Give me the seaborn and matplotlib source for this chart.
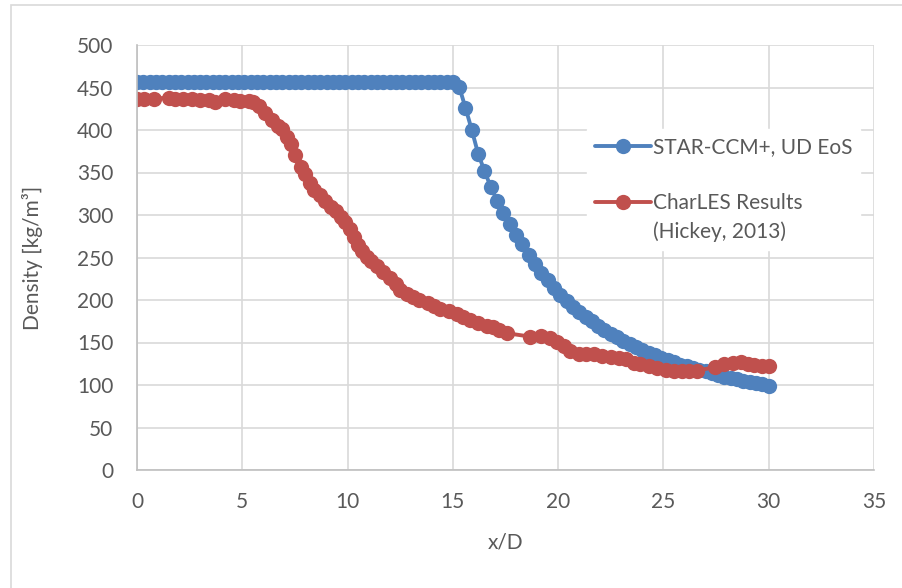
import matplotlib
matplotlib.use("Agg")
import matplotlib.pyplot as plt
from matplotlib.lines import Line2D
from matplotlib.patches import Rectangle
import seaborn as sns
import pandas as pd

# ---------------- data ----------------
blue_x = [0.0, 0.3, 0.6, 0.9, 1.2, 1.5, 1.8, 2.1, 2.4, 2.7,
          3.0, 3.3, 3.6, 3.9, 4.2, 4.5, 4.8, 5.1, 5.4, 5.7,
          6.0, 6.3, 6.6, 6.9, 7.2, 7.5, 7.8, 8.1, 8.4, 8.7,
          9.0, 9.3, 9.6, 9.9, 10.2, 10.5, 10.8, 11.1, 11.4, 11.7,
          12.0, 12.3, 12.6, 12.9, 13.2, 13.5, 13.8, 14.1, 14.4, 14.7,
          15.0, 15.3, 15.6, 15.9, 16.2, 16.5, 16.8, 17.1, 17.4, 17.7,
          18.0, 18.3, 18.6, 18.9, 19.2, 19.5, 19.8, 20.1, 20.4, 20.7,
          21.0, 21.3, 21.6, 21.9, 22.2, 22.5, 22.8, 23.1, 23.4, 23.7,
          24.0, 24.3, 24.6, 24.9, 25.2, 25.5, 25.8, 26.1, 26.4, 26.7,
          27.0, 27.3, 27.6, 27.9, 28.2, 28.5, 28.8, 29.1, 29.4, 29.7,
          30.0]
blue_y = [457, 457, 457, 457, 457, 457, 457, 457, 457, 457,
          457, 457, 457, 457, 457, 457, 457, 457, 457, 457,
          457, 457, 457, 457, 457, 457, 457, 457, 457, 457,
          457, 457, 457, 457, 457, 457, 457, 457, 457, 457,
          457, 457, 457, 457, 457, 457, 457, 457, 457, 457,
          456, 451, 426, 400, 372, 352, 333, 317, 302, 289,
          277, 266, 253, 242, 232, 223, 214, 206, 199, 192,
          186, 180, 175, 170, 165, 160, 156, 152, 148, 145,
          141, 138, 135, 132, 129, 127, 124, 122, 120, 118,
          116, 114, 112, 110, 108, 107, 105, 104, 102, 101,
          99]

red_x = [0.0, 0.35, 0.8, 1.5, 1.8, 2.2, 2.6, 3.0, 3.4, 3.7,
         4.2, 4.6, 4.9, 5.3, 5.5, 5.8, 6.1, 6.4, 6.7, 6.9,
         7.1, 7.3, 7.5, 7.8, 8.0, 8.2, 8.4, 8.7, 8.95, 9.2,
         9.45, 9.7, 9.9, 10.1, 10.3, 10.5, 10.7, 10.9, 11.1, 11.4,
         11.7, 12.0, 12.3, 12.5, 12.8, 13.1, 13.4, 13.8, 14.1, 14.4,
         14.8, 15.2, 15.5, 15.8, 16.2, 16.6, 16.9, 17.2, 17.55, 18.65,
         19.2, 19.6, 19.95, 20.3, 20.55, 21.0, 21.3, 21.7, 22.1, 22.5,
         22.9, 23.2, 23.6, 23.9, 24.3, 24.7, 25.1, 25.5, 25.9, 26.2,
         26.6, 27.45, 27.9, 28.3, 28.7, 29.0, 29.3, 29.7, 30.0]
red_y = [436, 436, 437, 438, 437, 436, 436, 435, 435, 433,
         437, 435, 434, 434, 433, 428, 420, 412, 405, 401,
         392, 383, 371, 356, 348, 338, 330, 323, 316, 310,
         305, 298, 292, 283, 274, 265, 258, 251, 246, 240,
         233, 226, 219, 212, 207, 203, 200, 196, 193, 190,
         187, 183, 180, 177, 173, 170, 168, 165, 161, 157,
         158, 155, 151, 146, 140, 137, 137, 136, 134, 133,
         132, 131, 126, 125, 122, 120, 118, 116, 116, 117,
         117, 121, 125, 126, 127, 125, 124, 122, 122]

series_names = ["STAR-CCM+, UD EoS", "CharLES Results"]
legend_extra = "(Hickey, 2013)"
x_ticks = [0, 5, 10, 15, 20, 25, 30, 35]
y_ticks = [0, 50, 100, 150, 200, 250, 300, 350, 400, 450, 500]
x_label = "x/D"
y_label = "Density [kg/m³]"

# ---------------- style ----------------
sns.set_theme(style="white")
plt.rcParams["font.family"] = ["Lato", "DejaVu Sans"]
text_col = "#595959"
grid_col = "#d9d9d9"
axis_col = "#bfbfbf"
c_blue = "#4F81BD"
c_red = "#C0504D"
fs = 15

df = pd.concat([
    pd.DataFrame({"x": blue_x, "density": blue_y, "series": series_names[0]}),
    pd.DataFrame({"x": red_x, "density": red_y, "series": series_names[1]}),
], ignore_index=True)

fig = plt.figure(figsize=(9.03, 5.88), dpi=100)
ax = fig.add_axes([137 / 903, 1 - 470 / 588, (874 - 137) / 903, (470 - 45) / 588])

sns.lineplot(data=df, x="x", y="density", hue="series", hue_order=series_names,
             palette=[c_blue, c_red], marker="o", markersize=11,
             markeredgewidth=0, linewidth=2.8, estimator=None, sort=False,
             legend=False, ax=ax)

ax.set_xlim(0, 35)
ax.set_ylim(0, 500)
ax.set_xticks(x_ticks)
ax.set_yticks(y_ticks)
ax.grid(True, color=grid_col, linewidth=1.2)
ax.set_axisbelow(True)
for side in ["top", "right"]:
    ax.spines[side].set_visible(False)
for side in ["left", "bottom"]:
    ax.spines[side].set_color(axis_col)
    ax.spines[side].set_linewidth(1.2)
ax.tick_params(axis="both", length=0, labelsize=fs, labelcolor=text_col)
ax.tick_params(axis="y", pad=17)
ax.tick_params(axis="x", pad=16)

ax.set_xlabel(x_label, fontsize=fs, color=text_col)
ax.set_ylabel(y_label, fontsize=fs, color=text_col)
ax.xaxis.set_label_coords(0.5, -0.148)
ax.yaxis.set_label_coords(-0.128, 0.5)

handles = [
    Line2D([], [], color=c_blue, marker="o", markersize=11, markeredgewidth=0, linewidth=2.8),
    Line2D([], [], color="none"),
    Line2D([], [], color=c_red, marker="o", markersize=11, markeredgewidth=0, linewidth=2.8),
    Line2D([], [], color="none"),
]
labels = [series_names[0], "", series_names[1], legend_extra]
leg = ax.legend(handles, labels, loc="upper left",
                bbox_to_anchor=(587 / 903, 1 - 129 / 588),
                bbox_transform=fig.transFigure, borderaxespad=0,
                frameon=True, facecolor="white", edgecolor="white", framealpha=1,
                fontsize=fs, handlelength=2.65, handletextpad=0.1,
                labelspacing=0.38, borderpad=0.4, fancybox=False)
for t in leg.get_texts():
    t.set_color(text_col)

fig.add_artist(Rectangle((11 / 903, -0.1), 1.2, 1 - 5 / 588 + 0.1,
                         transform=fig.transFigure, fill=False,
                         edgecolor=grid_col, linewidth=1.2))

fig.savefig("out.png", dpi=100, facecolor="white")
